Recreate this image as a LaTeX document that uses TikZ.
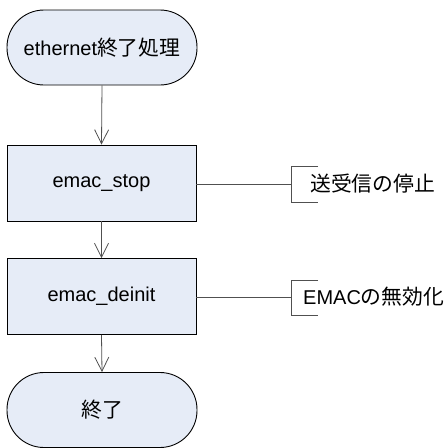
\documentclass[tikz,border=0pt]{standalone}
\usepackage{fontspec}
\setmainfont{Liberation Sans}
\newfontfamily\cjk{Noto Sans CJK JP}[Scale=1.04]
\usetikzlibrary{arrows.meta}
\definecolor{boxfill}{RGB}{230,236,247}
\definecolor{linegray}{RGB}{80,80,80}
\tikzset{
  base/.style={draw=black, line width=0.9pt, fill=boxfill, inner sep=0pt, font=\fontsize{20}{24}\selectfont},
  terminal/.style={base, rectangle, rounded corners=37pt, minimum width=190pt, minimum height=75pt},
  procbox/.style={base, rectangle, minimum width=189pt, minimum height=76pt},
  flow/.style={draw=linegray, line width=0.8pt, -{Straight Barb[length=14pt,width=14pt,line width=0.8pt]}},
  conn/.style={draw=linegray, line width=0.8pt},
  note/.style={anchor=west, inner sep=0pt, font=\fontsize{20}{24}\selectfont}
}
\begin{document}
\begin{tikzpicture}[x=1pt,y=-1pt]
\useasboundingbox (0,0) rectangle (447,448);
\node[terminal] (start) at (102,47.5) {ethernet{\cjk 終了処理}};
\node[procbox] (stop) at (101.5,183) {emac\_stop};
\node[procbox] (deinit) at (101.5,296.5) {emac\_deinit};
\node[terminal] (end) at (102,410) {{\cjk 終了}};
\draw[flow] (start.south) -- (stop.north);
\draw[flow] (stop.south) -- (deinit.north);
\draw[flow] (deinit.south) -- (end.north);
% notes
\coordinate (b1) at (291,184);
\coordinate (b1t) at (318,166);
\coordinate (b1b) at (318,202);
\node[note] (n1) at (310,184) {{\cjk 送受信の停止}};
\draw[conn] (stop.east |- b1) -- (b1);
\draw[conn] (b1t) -- (b1t -| b1) -- (b1b -| b1) -- (b1b);
\coordinate (b2) at (291,297);
\coordinate (b2t) at (318,280);
\coordinate (b2b) at (318,315);
\node[note] (n2) at (303,297) {EMAC{\cjk の無効化}};
\draw[conn] (deinit.east |- b2) -- (b2);
\draw[conn] (b2t) -- (b2t -| b2) -- (b2b -| b2) -- (b2b);
\end{tikzpicture}
\end{document}
